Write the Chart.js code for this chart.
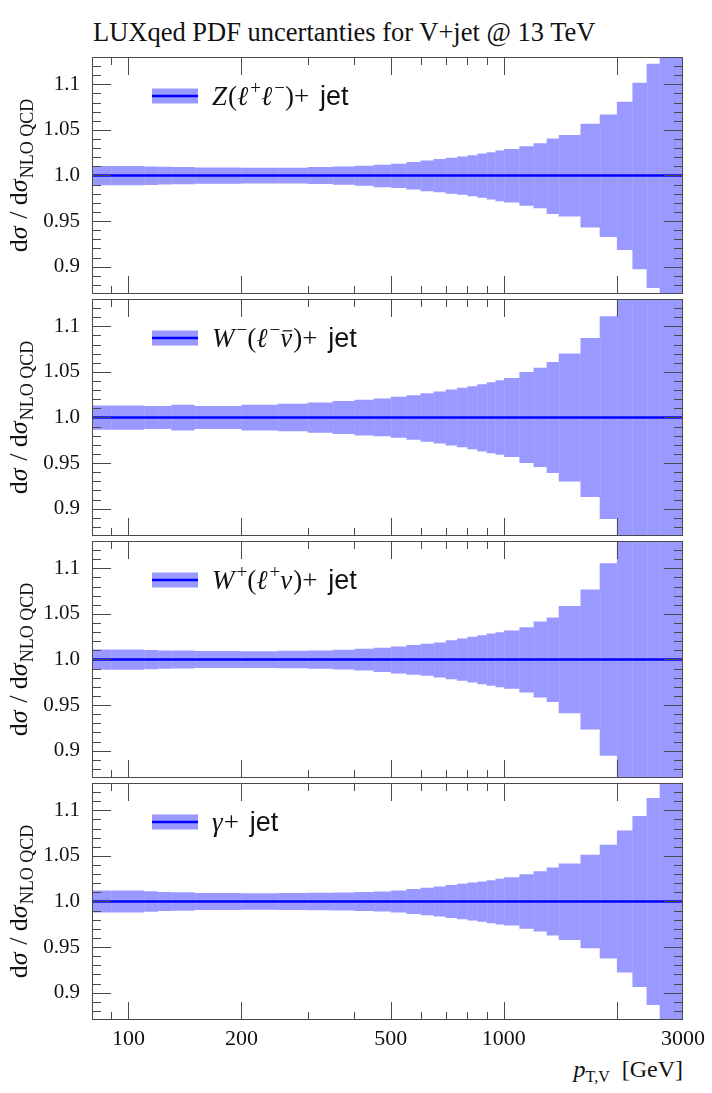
<!DOCTYPE html>
<html>
<head>
<meta charset="utf-8">
<title>LUXqed PDF uncertanties for V+jet</title>
<script src="https://cdn.jsdelivr.net/npm/chart.js@4.4.1/dist/chart.umd.min.js"></script>
<style>
  body { margin: 0; background: #fff; }
  #page { position: relative; width: 712px; height: 1093px; overflow: hidden;
          font-family: "Liberation Serif", "DejaVu Serif", serif; color: #111; }
  #page canvas { position: absolute; left: 0; }
  #title { position: absolute; left: 93px; top: 17px; font-size: 26.5px; white-space: nowrap; }
  #xtitle { position: absolute; right: 29px; top: 1056px; font-size: 24px; white-space: nowrap; }
  #xtitle sub { font-size: 16px; vertical-align: -5px; }
</style>
</head>
<body>
<div id="page">
  <div id="title">LUXqed PDF uncertanties for V+jet @ 13 TeV</div>
  <div id="xtitle"><i>p</i><sub>T,V</sub>&nbsp; [GeV]</div>
</div>
<script>
// bin edges in p_T,V [GeV]; each series below has one value per bin
const edges = [80, 90, 110, 120, 130, 150, 200, 250, 300, 350, 400, 450, 500, 550, 600, 650, 700, 750, 800, 850, 900, 950, 1000, 1100, 1200, 1300, 1400, 1600, 1800, 2000, 2200, 2400, 2600, 3000];

// upper / lower edge of the PDF band, ratio to NLO QCD
const zUp   = [1.0105, 1.0105, 1.0100, 1.0095, 1.0093, 1.0088, 1.0085, 1.0086, 1.0092, 1.0098, 1.0107, 1.0117, 1.0128, 1.0147, 1.0165, 1.0180, 1.0194, 1.0209, 1.0223, 1.0242, 1.0256, 1.0275, 1.0290, 1.0322, 1.0355, 1.0407, 1.0443, 1.0568, 1.0670, 1.0810, 1.1018, 1.1227, 1.1600];
const zDown = [0.9892, 0.9892, 0.9897, 0.9902, 0.9905, 0.9910, 0.9913, 0.9912, 0.9906, 0.9899, 0.9888, 0.9872, 0.9864, 0.9846, 0.9828, 0.9817, 0.9799, 0.9788, 0.9773, 0.9755, 0.9736, 0.9718, 0.9703, 0.9667, 0.9641, 0.9579, 0.9549, 0.9429, 0.9326, 0.9183, 0.8971, 0.8766, 0.8400];

const wmUp   = [1.0133, 1.0133, 1.0125, 1.0125, 1.0140, 1.0125, 1.0140, 1.0150, 1.0165, 1.0180, 1.0195, 1.0209, 1.0227, 1.0245, 1.0267, 1.0286, 1.0308, 1.0326, 1.0344, 1.0366, 1.0388, 1.0410, 1.0432, 1.0498, 1.0546, 1.0608, 1.0703, 1.0872, 1.1110, 1.1600, 1.1700, 1.1800, 1.1900];
const wmDown = [0.9865, 0.9865, 0.9873, 0.9873, 0.9858, 0.9873, 0.9858, 0.9848, 0.9833, 0.9818, 0.9803, 0.9795, 0.9777, 0.9755, 0.9733, 0.9714, 0.9692, 0.9674, 0.9652, 0.9626, 0.9608, 0.9590, 0.9568, 0.9502, 0.9458, 0.9392, 0.9297, 0.9128, 0.8886, 0.8400, 0.8300, 0.8200, 0.8100];

const wpUp   = [1.0110, 1.0110, 1.0105, 1.0100, 1.0098, 1.0092, 1.0090, 1.0095, 1.0100, 1.0108, 1.0118, 1.0128, 1.0143, 1.0158, 1.0172, 1.0187, 1.0212, 1.0231, 1.0249, 1.0267, 1.0286, 1.0300, 1.0319, 1.0355, 1.0418, 1.0462, 1.0586, 1.0769, 1.1055, 1.1600, 1.1700, 1.1800, 1.1900];
const wpDown = [0.9888, 0.9888, 0.9893, 0.9898, 0.9900, 0.9906, 0.9908, 0.9903, 0.9898, 0.9889, 0.9878, 0.9864, 0.9846, 0.9832, 0.9821, 0.9802, 0.9784, 0.9766, 0.9747, 0.9729, 0.9711, 0.9696, 0.9678, 0.9637, 0.9582, 0.9535, 0.9410, 0.9231, 0.8945, 0.8400, 0.8300, 0.8200, 0.8100];

const gUp   = [1.0120, 1.0120, 1.0112, 1.0105, 1.0102, 1.0093, 1.0090, 1.0092, 1.0095, 1.0100, 1.0105, 1.0110, 1.0121, 1.0136, 1.0150, 1.0165, 1.0180, 1.0194, 1.0209, 1.0220, 1.0234, 1.0249, 1.0267, 1.0300, 1.0333, 1.0374, 1.0418, 1.0513, 1.0623, 1.0780, 1.0938, 1.1136, 1.1400];
const gDown = [0.9880, 0.9880, 0.9888, 0.9895, 0.9898, 0.9907, 0.9910, 0.9908, 0.9905, 0.9900, 0.9895, 0.9890, 0.9879, 0.9864, 0.9850, 0.9835, 0.9820, 0.9806, 0.9791, 0.9777, 0.9762, 0.9747, 0.9736, 0.9700, 0.9670, 0.9626, 0.9579, 0.9487, 0.9374, 0.9220, 0.9062, 0.8864, 0.8600];

const central = [1.0, 1.0];
const centralX = [80, 3000];

const yTicks = [0.9, 0.95, 1.0, 1.05, 1.1];
const yTickLabels = ['0.9', '0.95', '1.0', '1.05', '1.1'];
const yMinor = [0.88, 0.89, 0.91, 0.92, 0.93, 0.94, 0.96, 0.97, 0.98, 0.99, 1.01, 1.02, 1.03, 1.04, 1.06, 1.07, 1.08, 1.09, 1.11, 1.12];
const xTicks = [100, 200, 500, 1000, 3000];
const xMajor = [100, 200, 500, 1000, 2000];
const xMinor = [90, 300, 400, 600, 700, 800, 900];

// legend text pieces: i = italic, s = superscript, b = bar over, j = upright sans, p = binary plus spacing
const legendZ  = [['Z', 'i'], ['('], ['ℓ', 'i'], ['+', 's'], ['ℓ', 'i'], ['−', 's'], [')'], ['+', 'p'], ['jet', 'j']];
const legendWm = [['W', 'i'], ['−', 's'], ['('], ['ℓ', 'i'], ['−', 's'], ['ν', 'ib'], [')'], ['+', 'p'], ['jet', 'j']];
const legendWp = [['W', 'i'], ['+', 's'], ['('], ['ℓ', 'i'], ['+', 's'], ['ν', 'i'], [')'], ['+', 'p'], ['jet', 'j']];
const legendG  = [['γ', 'i'], ['+', 'p'], ['jet', 'j']];

const panels = [
  { up: zUp, down: zDown, legend: legendZ },
  { up: wmUp, down: wmDown, legend: legendWm },
  { up: wpUp, down: wpDown, legend: legendWp },
  { up: gUp, down: gDown, legend: legendG }
];

const bandColor = '#9999ff';
const lineColor = '#0000ff';
const axisColor = '#4a4a4a';
const serif = '"Liberation Serif", "DejaVu Serif", serif';
const sans = '"Liberation Sans", "DejaVu Sans", sans-serif';

function steps(vals) {
  return edges.map((e, i) => ({ x: e, y: vals[Math.min(i, vals.length - 1)] }));
}

function drawPieces(ctx, pieces, x, y, size) {
  pieces.forEach(p => {
    const f = p[1] || '';
    const sup = f.includes('s');
    const sz = sup ? Math.round(size * 0.72) : size;
    ctx.font = (f.includes('i') ? 'italic ' : '') + sz + 'px ' + (f.includes('j') ? sans : serif);
    const yy = sup ? y - size * 0.4 : y;
    if (sup) x += 1;
    ctx.fillText(p[0], x, yy);
    const w = ctx.measureText(p[0]).width;
    if (f.includes('b')) {
      ctx.save();
      ctx.lineWidth = 1.2;
      ctx.strokeStyle = ctx.fillStyle;
      ctx.beginPath();
      ctx.moveTo(x + w * 0.2, y - size * 0.6);
      ctx.lineTo(x + w * 1.0, y - size * 0.6);
      ctx.stroke();
      ctx.restore();
    }
    x += w + (f.includes('p') ? size * 0.4 : 0) + (f.includes('i') ? 1 : 0);
  });
  return x;
}

const decor = {
  id: 'decor',
  // faint seams between neighbouring bins of the band
  afterDatasetDraw(chart, args, opts) {
    if (args.index !== 2) return;
    const { ctx, chartArea: a, scales: { x, y } } = chart;
    const up = opts.up, down = opts.down;
    ctx.save();
    ctx.beginPath();
    ctx.rect(a.left, a.top, a.width, a.height);
    ctx.clip();
    ctx.strokeStyle = 'rgba(255,255,255,0.1)';
    ctx.lineWidth = 1;
    for (let k = 1; k < up.length; k++) {
      const px = Math.round(x.getPixelForValue(edges[k])) + 0.5;
      ctx.beginPath();
      ctx.moveTo(px, y.getPixelForValue(Math.min(up[k - 1], up[k])));
      ctx.lineTo(px, y.getPixelForValue(Math.max(down[k - 1], down[k])));
      ctx.stroke();
    }
    ctx.restore();
  },
  afterDraw(chart, args, opts) {
    const { ctx, chartArea: a, scales: { x, y } } = chart;
    ctx.save();
    ctx.strokeStyle = axisColor;
    ctx.lineWidth = 1;
    ctx.strokeRect(a.left + 0.5, a.top + 0.5, a.width - 1, a.height - 1);
    const seg = (x1, y1, x2, y2) => {
      ctx.beginPath(); ctx.moveTo(x1, y1); ctx.lineTo(x2, y2); ctx.stroke();
    };
    xMajor.forEach(v => {
      const px = Math.round(x.getPixelForValue(v)) + 0.5;
      seg(px, a.top, px, a.top + 18); seg(px, a.bottom, px, a.bottom - 18);
    });
    xMinor.forEach(v => {
      const px = Math.round(x.getPixelForValue(v)) + 0.5;
      seg(px, a.top, px, a.top + 8); seg(px, a.bottom, px, a.bottom - 8);
    });
    yTicks.forEach(v => {
      const py = Math.round(y.getPixelForValue(v)) + 0.5;
      seg(a.left, py, a.left + 19, py); seg(a.right, py, a.right - 19, py);
    });
    yMinor.forEach(v => {
      const py = Math.round(y.getPixelForValue(v)) + 0.5;
      seg(a.left, py, a.left + 9, py); seg(a.right, py, a.right - 9, py);
    });

    // legend
    ctx.fillStyle = '#111';
    const ly = a.top + 39;
    ctx.save();
    ctx.fillStyle = bandColor;
    ctx.fillRect(152, ly - 7.5, 46, 15);
    ctx.strokeStyle = lineColor;
    ctx.lineWidth = 2.7;
    seg(152, ly, 198, ly);
    ctx.restore();
    ctx.textBaseline = 'alphabetic';
    ctx.textAlign = 'left';
    drawPieces(ctx, opts.legend, 212, ly + 9, 27);

    // y axis title, rotated
    const yTitle = [['d'], ['σ', 'i'], [' / d'], ['σ', 'i']];
    let w = 0;
    yTitle.forEach(p => {
      ctx.font = (p[1] ? 'italic ' : '') + '26px ' + serif;
      w += ctx.measureText(p[0]).width + (p[1] ? 1 : 0);
    });
    ctx.font = '18px ' + serif;
    w += ctx.measureText('NLO QCD').width;
    ctx.translate(27, (a.top + a.bottom) / 2);
    ctx.rotate(-Math.PI / 2);
    const xe = drawPieces(ctx, yTitle, -w / 2, 0, 26);
    ctx.font = '18px ' + serif;
    ctx.fillText('NLO QCD', xe, 6);
    ctx.restore();
  }
};

const page = document.getElementById('page');
panels.forEach((p, i) => {
  const last = i === panels.length - 1;
  const top = 57 + i * 242 - 10;
  const h = 237 + 20 + (last ? 50 : 0);
  const cv = document.createElement('canvas');
  cv.width = 712; cv.height = h;
  cv.style.top = top + 'px';
  cv.style.width = '712px'; cv.style.height = h + 'px';
  page.appendChild(cv);

  new Chart(cv, {
    type: 'line',
    data: {
      datasets: [
        { data: centralX.map((x, k) => ({ x, y: central[k] })), borderColor: lineColor, borderWidth: 2.7, fill: false, clip: 0 },
        { data: steps(p.up), stepped: true, borderWidth: 0, borderColor: bandColor, fill: false, clip: 0 },
        { data: steps(p.down), stepped: true, borderWidth: 0, borderColor: bandColor, backgroundColor: bandColor, fill: '-1', clip: 0 }
      ]
    },
    options: {
      responsive: false,
      animation: false,
      events: [],
      elements: { point: { radius: 0 }, line: { tension: 0 } },
      layout: { padding: { left: 0, right: 29, top: 10, bottom: last ? 0 : 10 } },
      plugins: {
        legend: { display: false },
        tooltip: { enabled: false },
        decor: { legend: p.legend, up: p.up, down: p.down }
      },
      scales: {
        x: {
          type: 'logarithmic', min: 80, max: 3000,
          display: last,
          grid: { display: false, drawTicks: false },
          border: { display: false },
          afterBuildTicks: s => { s.ticks = xTicks.map(v => ({ value: v })); },
          afterFit: s => {
            s.height = last ? 60 : 0;
            s.paddingLeft = 0; s.paddingRight = 0;
          },
          ticks: { autoSkip: false, maxRotation: 0, padding: 6, color: '#111',
                   font: { family: serif, size: 22 }, callback: v => String(v) }
        },
        y: {
          type: 'linear', min: 0.87, max: 1.13,
          grid: { display: false, drawTicks: false },
          border: { display: false },
          afterBuildTicks: s => { s.ticks = yTicks.map(v => ({ value: v })); },
          afterFit: s => {
            s.width = 92;
            s.paddingTop = 0; s.paddingBottom = 0;
          },
          ticks: { padding: 12, color: '#111', font: { family: serif, size: 21 },
                   callback: v => yTickLabels[yTicks.indexOf(v)] ?? '' }
        }
      }
    },
    plugins: [decor]
  });
});
</script>
</body>
</html>
